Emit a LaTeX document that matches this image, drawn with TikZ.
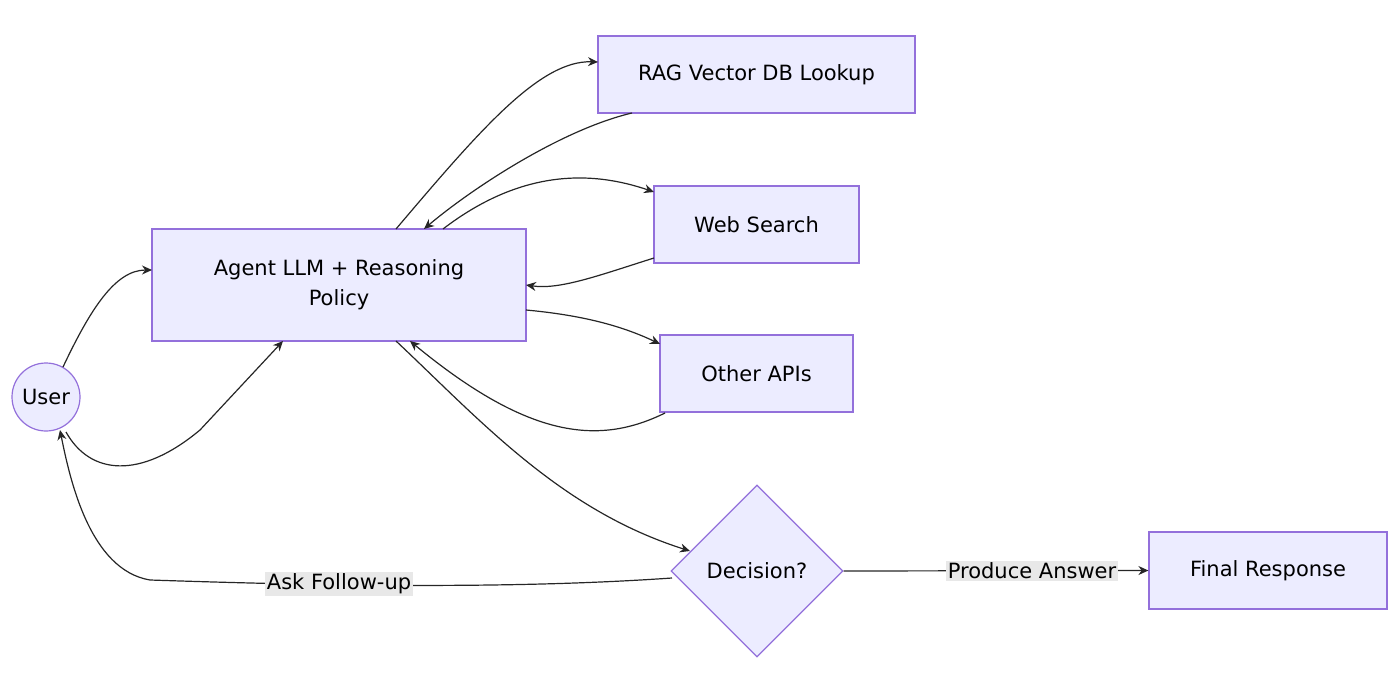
\documentclass[tikz,border=0pt]{standalone}
\usepackage{fontspec}
\setmainfont{DejaVu Sans}
\usetikzlibrary{shapes.geometric,arrows.meta}
\definecolor{nf}{HTML}{ECECFF}
\definecolor{ns}{HTML}{9370DB}
\definecolor{lb}{HTML}{E8E8E8}
\begin{document}
\begin{tikzpicture}[x=0.5pt,y=-0.5pt,
 box/.style={draw=ns,fill=nf,line width=0.6pt,inner sep=0pt,font=\fontsize{10.5}{15}\selectfont,align=center},
 e/.style={draw=black!85,line width=0.6pt,-{Stealth[length=5pt,width=4.5pt]}},
 lab/.style={fill=lb,inner sep=1pt,font=\fontsize{10.5}{13}\selectfont}]
\useasboundingbox (0,0) rectangle (1400,689);
\node[box,circle,minimum size=34pt] (user) at (46,397) {User};
\node[box,minimum width=187pt,minimum height=56pt] (agent) at (339,285) {Agent LLM + Reasoning\\Policy};
\node[box,minimum width=158.5pt,minimum height=38.5pt] (rag) at (756.5,74.5) {RAG Vector DB Lookup};
\node[box,minimum width=102.5pt,minimum height=38.5pt] (web) at (756.5,224.5) {Web Search};
\node[box,minimum width=96.5pt,minimum height=38.5pt] (api) at (756.5,373.5) {Other APIs};
\node[box,diamond,minimum width=86pt,minimum height=86pt] (dec) at (757,571) {Decision?};
\node[box,minimum width=119pt,minimum height=38.5pt] (fin) at (1268,570.5) {Final Response};
\coordinate (a1) at (152,270); \coordinate (a2) at (283,341);
\coordinate (a3) at (396,229); \coordinate (a4) at (424,229); \coordinate (a5) at (443,229);
\coordinate (a6) at (526,285); \coordinate (a7) at (526,310); \coordinate (a8) at (410,341); \coordinate (a9) at (396,341);
\coordinate (u1) at (63,367); \coordinate (u2) at (66,432); \coordinate (u3) at (60,430);
\coordinate (r1) at (598,62); \coordinate (r2) at (632,113);
\coordinate (w1) at (654,192); \coordinate (w2) at (654,258);
\coordinate (o1) at (660,344); \coordinate (o2) at (665,413);
\coordinate (d1) at (690,551); \coordinate (d2) at (672,578);
\draw[e] (u1) .. controls (90,310) and (115,270) .. (a1);
\draw[e] (u2) .. controls (90,475) and (140,480) .. (200,430) -- (a2);
\draw[e] (a3) .. controls (480,130) and (540,60) .. (r1);
\draw[e] (r2) .. controls (560,130) and (470,190) .. (a4);
\draw[e] (a5) .. controls (520,170) and (590,170) .. (w1);
\draw[e] (w2) .. controls (600,275) and (560,290) .. (a6);
\draw[e] (a7) .. controls (580,315) and (620,325) .. (o1);
\draw[e] (o2) .. controls (600,445) and (530,440) .. (a8);
\draw[e] (a9) .. controls (480,420) and (560,510) .. (d1);
\draw[e] (d2) .. controls (500,590) and (300,585) .. (150,580) .. controls (90,570) and (70,480) .. (u3);
\draw[e] (dec.east) -- (fin.west);
\node[lab] (l1) at (339,584) {Ask Follow-up};
\node[lab] (l2) at (1032,571) {Produce Answer};
\end{tikzpicture}
\end{document}
